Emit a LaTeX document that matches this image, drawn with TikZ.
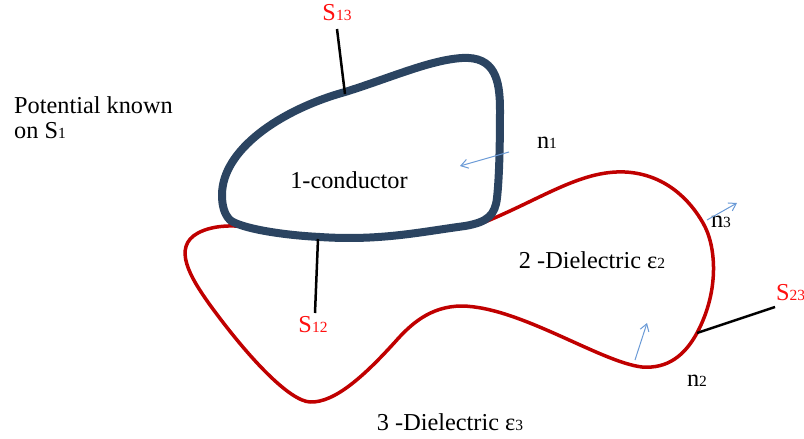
\documentclass[tikz,border=0pt]{standalone}
\usepackage{fontspec}
\setmainfont{Liberation Serif}
\usetikzlibrary{arrows.meta}
\definecolor{condblue}{HTML}{2B4461}
\definecolor{dielred}{HTML}{C00000}
\definecolor{labred}{HTML}{FF1010}
\definecolor{nblue}{HTML}{6A9AD6}
\newcommand{\sbs}[1]{{\fontsize{15.5}{16}\selectfont #1}}
\tikzset{
  txt/.style={font=\fontsize{24.3}{26}\selectfont, inner sep=0pt, anchor=base},
  slab/.style={txt, text=labred},
  conductor/.style={draw=condblue, line width=8pt, line join=round},
  dielectric/.style={draw=dielred, line width=3.5pt, line join=round},
  leader/.style={draw=black, line width=2.5pt},
  normal/.style={draw=nblue, line width=1pt, -{Straight Barb[length=7pt,width=9pt]}}
}
\begin{document}
\begin{tikzpicture}[x=1pt,y=-1pt]
\useasboundingbox (0,0) rectangle (804,439);
% dielectric 2 boundary
\draw[dielectric] (480,224)
  .. controls (540,200) and (580,170) .. (625,172)
  .. controls (665,174) and (690,200) .. (703,223)
  .. controls (716,245) and (720,290) .. (697,333)
  .. controls (685,355) and (668,369) .. (642,367)
  .. controls (600,362) and (520,307) .. (462,306)
  .. controls (430,306) and (410,325) .. (395,342)
  .. controls (365,375) and (335,403) .. (310,402)
  .. controls (290,401) and (250,360) .. (210,305)
  .. controls (190,277) and (172,247) .. (198,233)
  .. controls (213,225) and (235,224) .. (260,229);
% conductor
\draw[conductor] (222,195)
  .. controls (222,150) and (280,110) .. (345,92)
  .. controls (390,78) and (430,60) .. (462,58)
  .. controls (495,56) and (500,80) .. (500,110)
  .. controls (500,150) and (499,180) .. (497,198)
  .. controls (495,215) and (488,222) .. (465,226)
  .. controls (420,232) and (380,241) .. (320,237)
  .. controls (280,235) and (240,228) .. (230,220)
  .. controls (224,214) and (222,205) .. (222,195) -- cycle;
% boundary points
\coordinate (p13) at (345,94);
\coordinate (p12) at (318,239);
\coordinate (p23) at (697,333);
% labels
\node[txt, anchor=base west] (pk) at (14,113) {Potential known};
\node[txt, anchor=base west] (on) at (14,138) {on S\sbs{1}};
\node[txt] (cond) at (349,188) {1-conductor};
\node[txt] (d2) at (592,268) {2 -Dielectric ε\sbs{2}};
\node[txt] (d3) at (450,430) {3 -Dielectric ε\sbs{3}};
\node[slab] (s13) at (337,20) {S\sbs{13}};
\node[slab] (s12) at (313,332) {S\sbs{12}};
\node[slab, anchor=base west] (s23) at (776,300) {S\sbs{23}};
\node[txt] (n1) at (547,148) {n\sbs{1}};
\node[txt] (n3) at (721,227) {n\sbs{3}};
\node[txt] (n2) at (697,386) {n\sbs{2}};
% leaders
\coordinate (t13) at (337,29);
\coordinate (t12) at (315,313);
\coordinate (t23) at (775,307);
\draw[leader] (t13) -- (p13);
\draw[leader] (p12) -- (t12);
\draw[leader] (p23) -- (t23);
% normals
\coordinate (a1) at (509,152);
\coordinate (b1) at (460,166);
\coordinate (a3) at (707,220);
\coordinate (b3) at (737,203);
\coordinate (a2) at (635,360);
\coordinate (b2) at (647,323);
\draw[normal] (a1) -- (b1);
\draw[normal] (a3) -- (b3);
\draw[normal] (a2) -- (b2);
\end{tikzpicture}
\end{document}
